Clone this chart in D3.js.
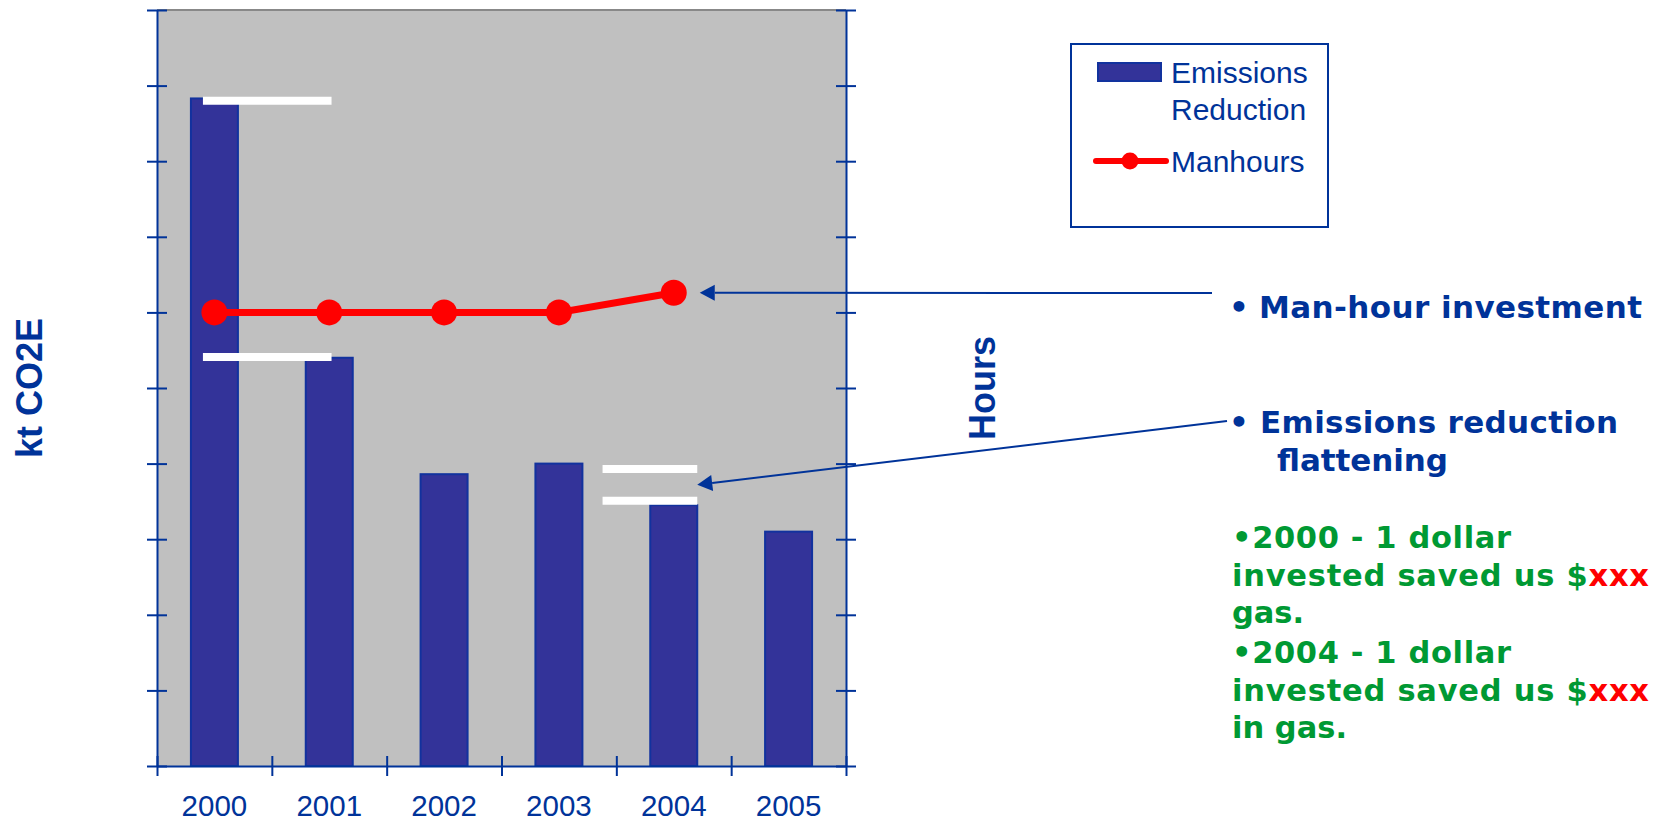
<!DOCTYPE html>
<meta charset="utf-8">
<script src="https://d3js.org/d3.v7.min.js"></script>
<style>
  body { margin: 0; background: #fff; }
  svg { display: block; }
  .sans { font-family: "Liberation Sans", Arial, sans-serif; }
  .note { font-family: "DejaVu Sans", Verdana, sans-serif; font-weight: bold; }
</style>
<div id="chart"></div>
<script>
// data (y units are the unlabeled gridline steps)
var years = ["2000", "2001", "2002", "2003", "2004", "2005"];
var emissions = [8.83, 5.40, 3.86, 4.00, 3.45, 3.10];
var manhours = [6.0, 6.0, 6.0, 6.0, 6.26];   // no 2005 value
var yTicks = [0, 1, 2, 3, 4, 5, 6, 7, 8, 9, 10];
// white level marks drawn over the bars
var marks = [
  {from: "2000", to: "2001", value: 8.80},
  {from: "2000", to: "2001", value: 5.41},
  {from: "2003", to: "2004", value: 3.93},
  {from: "2003", to: "2004", value: 3.51}
];

var blue = "#003399", barFill = "#333399", red = "#ff0000", green = "#009933";
var W = 1670, H = 821;
var plotL = 157, plotR = 846, plotT = 10, plotB = 766;

var svg = d3.select("#chart").append("svg")
  .attr("width", W)
  .attr("height", H);

var x = d3.scaleBand().domain(years).range([plotL, plotR]);
var bw = x.bandwidth();
var barW = 47;
var xEdge = d3.scaleLinear().domain([0, years.length]).range([plotL, plotR]);
var y = d3.scaleLinear().domain([0, 10]).range([plotB, plotT]);
var yHours = d3.scaleLinear().domain([0, 10]).range([plotB, plotT]);

// plot area
svg.append("rect")
  .attr("x", plotL).attr("y", plotT)
  .attr("width", plotR - plotL).attr("height", plotB - plotT)
  .attr("fill", "#c0c0c0");
svg.append("line")
  .attr("x1", plotL).attr("x2", plotR)
  .attr("y1", plotT).attr("y2", plotT)
  .attr("stroke", "#888").attr("stroke-width", 2);

// bars
svg.append("g")
  .selectAll("rect")
  .data(years)
  .enter().append("rect")
  .attr("x", function(d) { return x(d) + (bw - barW) / 2; })
  .attr("y", function(d, i) { return y(emissions[i]); })
  .attr("width", barW)
  .attr("height", function(d, i) { return plotB - y(emissions[i]); })
  .attr("fill", barFill)
  .attr("stroke", "#12329e")
  .attr("stroke-width", 2);

// white level marks
svg.append("g")
  .selectAll("line")
  .data(marks)
  .enter().append("line")
  .attr("x1", function(d) { return d.from == "2000" ? x(d.from) + bw * 0.40 : x(d.from) + bw * 0.88; })
  .attr("x2", function(d) { return d.from == "2000" ? x(d.to) + bw * 0.52 : x(d.to) + (bw + barW) / 2; })
  .attr("y1", function(d) { return y(d.value); })
  .attr("y2", function(d) { return y(d.value); })
  .attr("stroke", "#fff")
  .attr("stroke-width", 8);

// axes
function crossTicks(g, horiz) {
  g.selectAll(".tick line")
    .attr(horiz ? "y1" : "x1", -10)
    .attr(horiz ? "y2" : "x2", 10)
    .attr("stroke", blue).attr("stroke-width", 2);
  g.select(".domain").attr("stroke", blue).attr("stroke-width", 2);
  g.selectAll(".tick text").remove();
}
svg.append("g")
  .attr("transform", "translate(" + plotL + ",0)")
  .call(d3.axisLeft(y).tickValues(yTicks).tickSizeOuter(0).tickFormat(""))
  .call(crossTicks, false);
svg.append("g")
  .attr("transform", "translate(" + plotR + ",0)")
  .call(d3.axisRight(yHours).tickValues(yTicks).tickSizeOuter(0).tickFormat(""))
  .call(crossTicks, false);
svg.append("g")
  .attr("transform", "translate(0," + plotB + ")")
  .call(d3.axisBottom(xEdge).tickValues(d3.range(years.length + 1)).tickSizeOuter(0).tickFormat(""))
  .call(crossTicks, true);

svg.append("g")
  .selectAll("text")
  .data(years)
  .enter().append("text")
  .attr("class", "sans")
  .attr("x", function(d) { return x(d) + bw / 2; })
  .attr("y", 816)
  .attr("text-anchor", "middle")
  .attr("fill", blue)
  .style("font-size", "29.5px")
  .text(function(d) { return d; });

// axis titles
svg.append("text")
  .attr("class", "sans")
  .attr("transform", "translate(42,388) rotate(-90)")
  .attr("text-anchor", "middle")
  .attr("fill", blue)
  .style("font-size", "36px").style("font-weight", "bold")
  .text("kt CO2E");
svg.append("text")
  .attr("class", "sans")
  .attr("transform", "translate(995,388) rotate(-90)")
  .attr("text-anchor", "middle")
  .attr("fill", blue)
  .style("font-size", "36px").style("font-weight", "bold")
  .text("Hours");

// manhours line
var hourYears = years.slice(0, manhours.length);
var line = d3.line()
  .x(function(d) { return x(d) + bw / 2; })
  .y(function(d, i) { return yHours(manhours[i]); });
svg.append("path")
  .datum(hourYears)
  .attr("d", line)
  .attr("fill", "none")
  .attr("stroke", red)
  .attr("stroke-width", 7);
svg.append("g")
  .selectAll("circle")
  .data(hourYears)
  .enter().append("circle")
  .attr("cx", function(d) { return x(d) + bw / 2; })
  .attr("cy", function(d, i) { return yHours(manhours[i]); })
  .attr("r", 13)
  .attr("fill", red);

// legend
var lg = svg.append("g").attr("class", "sans");
lg.append("rect")
  .attr("x", 1071).attr("y", 44).attr("width", 257).attr("height", 183)
  .attr("fill", "#fff").attr("stroke", blue).attr("stroke-width", 2);
lg.append("rect")
  .attr("x", 1098).attr("y", 63).attr("width", 63).attr("height", 18)
  .attr("fill", barFill).attr("stroke", "#12329e").attr("stroke-width", 2);
lg.append("line")
  .attr("x1", 1096).attr("x2", 1166).attr("y1", 161).attr("y2", 161)
  .attr("stroke", red).attr("stroke-width", 6).attr("stroke-linecap", "round");
lg.append("circle").attr("cx", 1130).attr("cy", 161).attr("r", 8.5).attr("fill", red);
[["Emissions", 83], ["Reduction", 120], ["Manhours", 172]].forEach(function(t) {
  lg.append("text")
    .attr("x", 1171).attr("y", t[1])
    .attr("fill", blue)
    .style("font-size", "30px")
    .text(t[0]);
});

// annotation arrows
function arrow(x1, y1, x2, y2) {
  var a = Math.atan2(y2 - y1, x2 - x1), len = 15, hw = 8;
  var bx = x2 - len * Math.cos(a), by = y2 - len * Math.sin(a);
  svg.append("line")
    .attr("x1", x1).attr("y1", y1).attr("x2", bx).attr("y2", by)
    .attr("stroke", blue).attr("stroke-width", 2);
  svg.append("polygon")
    .attr("points", [
      [x2, y2],
      [bx + hw * Math.sin(a), by - hw * Math.cos(a)],
      [bx - hw * Math.sin(a), by + hw * Math.cos(a)]
    ].map(function(p) { return p.join(","); }).join(" "))
    .attr("fill", blue);
}
var i2004 = years.indexOf("2004");
arrow(1212, 293, x("2004") + bw / 2 + 26, yHours(manhours[i2004]));
arrow(1227, 421, x("2004") + (bw + barW) / 2, y((marks[2].value + marks[3].value) / 2));

// notes on the right
var notes = svg.append("g").attr("class", "note").style("font-size", "31px");
notes.append("text").attr("x", 1239).attr("y", 318).attr("text-anchor", "middle").attr("fill", blue).text("•");
notes.append("text").attr("x", 1259).attr("y", 318).attr("fill", blue)
  .attr("textLength", 383).attr("lengthAdjust", "spacing").text("Man-hour investment");
notes.append("text").attr("x", 1239).attr("y", 433).attr("text-anchor", "middle").attr("fill", blue).text("•");
notes.append("text").attr("x", 1260).attr("y", 433).attr("fill", blue)
  .attr("textLength", 358).attr("lengthAdjust", "spacing").text("Emissions reduction");
notes.append("text").attr("x", 1277).attr("y", 471).attr("fill", blue)
  .attr("textLength", 171).attr("lengthAdjust", "spacing").text("flattening");

var greenLines = [
  {y: 548, len: 279, parts: [["•2000 - 1 dollar", green]]},
  {y: 586, len: 417, parts: [["invested saved us $", green], ["xxx", red]]},
  {y: 623, len: 72, parts: [["gas.", green]]},
  {y: 663, len: 279, parts: [["•2004 - 1 dollar", green]]},
  {y: 701, len: 417, parts: [["invested saved us $", green], ["xxx", red]]},
  {y: 738, len: 115, parts: [["in gas.", green]]}
];
greenLines.forEach(function(l) {
  var t = notes.append("text").attr("x", 1232).attr("y", l.y)
    .attr("textLength", l.len).attr("lengthAdjust", "spacing")
    .style("font-size", "30.5px");
  l.parts.forEach(function(p) { t.append("tspan").attr("fill", p[1]).text(p[0]); });
});
</script>
